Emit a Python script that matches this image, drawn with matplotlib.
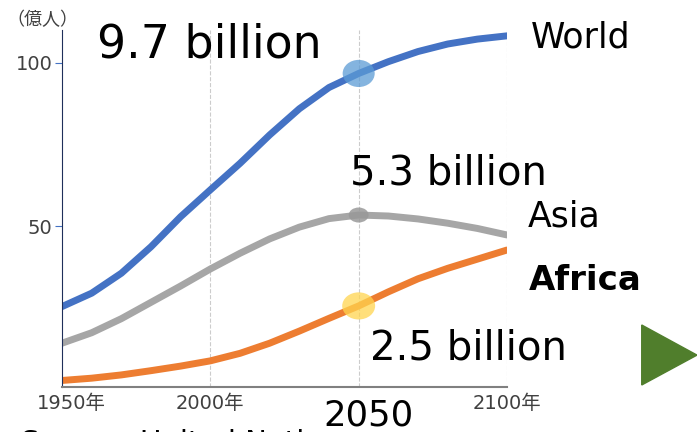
import matplotlib
matplotlib.use('Agg')
import matplotlib.pyplot as plt
from matplotlib.patches import Polygon, Ellipse
from matplotlib.transforms import ScaledTranslation

# population, 100 million people
years = [1950, 1960, 1970, 1980, 1990, 2000, 2010, 2020, 2030, 2040, 2050,
         2060, 2070, 2080, 2090, 2100]
world = [25.5, 29.6, 35.7, 43.8, 53.0, 61.2, 69.3, 78.0, 86.0, 92.5, 96.8,
         100.4, 103.5, 105.8, 107.3, 108.3]
asia = [14.3, 17.5, 21.8, 26.8, 31.8, 37.0, 41.8, 46.2, 49.8, 52.4, 53.5,
        53.2, 52.3, 51.0, 49.4, 47.4]
africa = [2.9, 3.6, 4.6, 5.9, 7.3, 8.9, 11.2, 14.3, 18.0, 21.9, 25.7,
          30.0, 34.0, 37.2, 40.0, 42.8]

fig = plt.figure(figsize=(6.97, 4.32), dpi=100)
ax = fig.add_axes([0.089, 0.1049, 0.6384, 0.825])

cjk = ['DejaVu Sans', 'Noto Sans CJK JP']

for vals, col in [(world, '#4472c4'), (asia, '#a6a6a6'), (africa, '#ed7d31')]:
    ax.plot(years, vals, color=col, lw=5, solid_capstyle='round',
            solid_joinstyle='round', zorder=2)

# highlight 2050
i = years.index(2050)
ax.add_patch(Ellipse((2050, world[i]), 10.8, 8.3, color='#5b9bd5', alpha=0.75, lw=0, zorder=3))
ax.add_patch(Ellipse((2050, asia[i]), 6.7, 4.6, color='#999999', alpha=0.85, lw=0, zorder=3))
ax.add_patch(Ellipse((2050, africa[i]), 11.1, 8.3, color='#ffd54f', alpha=0.75, lw=0, zorder=3))

ax.set_xlim(1950, 2100)
ax.set_ylim(1, 110)
for x in [2000, 2050, 2100]:
    ax.axvline(x, color='#cccccc', lw=0.8, ls='--', zorder=0)

ax.spines['top'].set_visible(False)
ax.spines['right'].set_visible(False)
ax.spines['left'].set_color('#1f2f5a')
ax.spines['bottom'].set_color('#808080')
ax.spines['bottom'].set_linewidth(1.5)

ax.set_yticks([50, 100])
ax.set_yticklabels(['50', '100'], fontsize=14, color='#404040')
ax.tick_params(axis='y', colors='#4472c4', labelcolor='#404040', length=5, pad=2)
ax.set_xticks([1950, 2000, 2050, 2100])
ax.set_xticklabels(['1950年', '2000年', '', '2100年'], fontsize=14, color='#404040', family=cjk)
ax.tick_params(axis='x', length=0, pad=5)
lab = ax.get_xticklabels()[0]
lab.set_transform(lab.get_transform() + ScaledTranslation(0.09, 0, fig.dpi_scale_trans))

fig.text(0.009, 0.953, '（億人）', fontsize=13, family=['Noto Sans CJK JP'], color='#404040', va='center')
fig.text(0.139, 0.866, '9.7 billion', fontsize=33, va='baseline')
fig.text(0.502, 0.574, '5.3 billion', fontsize=29, va='baseline')
fig.text(0.531, 0.167, '2.5 billion', fontsize=29, va='baseline')
fig.text(0.761, 0.889, 'World', fontsize=25, va='baseline')
fig.text(0.7575, 0.475, 'Asia', fontsize=25, va='baseline')
fig.text(0.759, 0.329, 'Africa', fontsize=24.5, weight='bold', va='baseline')
fig.text(0.528, 0.014, '2050', fontsize=25.5, va='baseline', ha='center')
fig.text(0.03, 0.007, 'Source: United Nations', fontsize=21, va='top')

tri = Polygon([[0.9207, 0.2477], [0.9207, 0.1088], [1.0, 0.178]], closed=True,
              transform=fig.transFigure, color='#507e2c')
fig.patches.append(tri)

fig.savefig('out.png', dpi=100)
